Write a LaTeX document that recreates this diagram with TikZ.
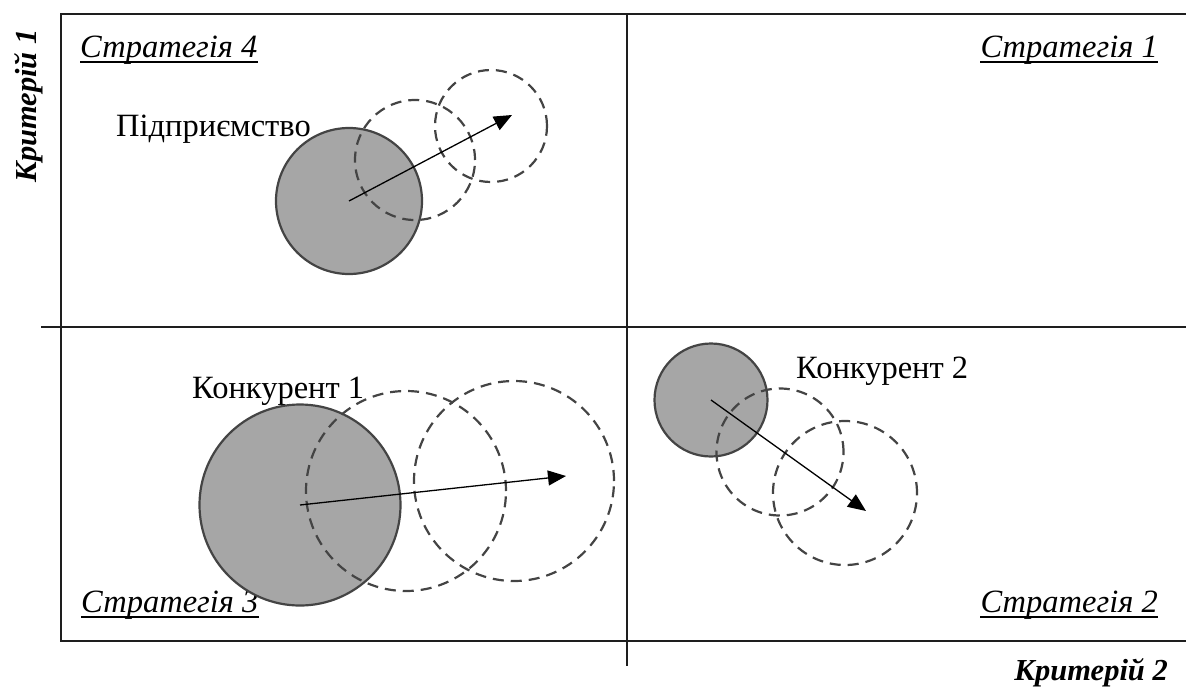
\documentclass[tikz,border=0pt]{standalone}
\usepackage{fontspec}
\setmainfont{Liberation Serif}
\usetikzlibrary{arrows.meta}
\definecolor{framecol}{HTML}{1E1E1E}
\definecolor{edgecol}{HTML}{444444}
\definecolor{firmfill}{HTML}{A6A6A6}
\tikzset{
  axisline/.style={line width=2pt, draw=framecol},
  firm/.style={circle, draw=edgecol, fill=firmfill, line width=2.2pt, inner sep=0pt},
  future/.style={circle, draw=edgecol, dash pattern=on 11pt off 7pt, line width=2.2pt, inner sep=0pt},
  move/.style={line width=1.3pt, -{Triangle[length=18pt, width=15pt]}},
  label/.style={inner sep=0pt, font=\fontsize{32.5}{38}\selectfont},
  strat/.style={inner sep=0pt, font=\fontsize{32.5}{38}\selectfont\itshape},
  crit/.style={inner sep=0pt, font=\fontsize{30.5}{36}\selectfont\bfseries\itshape},
  uline/.style={line width=2.4pt, draw=black}
}
\begin{document}
\begin{tikzpicture}[x=1pt, y=-1pt]
\useasboundingbox (0,0) rectangle (1186,689);

% quadrant frame and axes
\coordinate (tl) at (61,14);
\coordinate (tr) at (1186,14);
\coordinate (bl) at (61,641);
\coordinate (br) at (1186,641);
\coordinate (hl) at (41,327);
\coordinate (hr) at (1186,327);
\coordinate (vt) at (627,14);
\coordinate (vb) at (627,666);
\draw[axisline] (tr) -- (tl) -- (bl) -- (br);
\draw[axisline, line width=1.6pt] (hl) -- (hr);
\draw[axisline, line width=1.6pt] (vt) -- (vb);

% axis titles
\node[crit, rotate=90, anchor=base] (k1) at (36,106) {Критерій 1};
\node[crit, anchor=base east] (k2) at (1168,680) {Критерій 2};

% strategy labels, underlined
\node[strat, anchor=base west] (s4) at (80,57) {Стратегія 4};
\node[strat, anchor=base east] (s1) at (1158,57) {Стратегія 1};
\node[strat, anchor=base west] (s3) at (81,612) {Стратегія 3};
\node[strat, anchor=base east] (s2) at (1158,612) {Стратегія 2};
\foreach \s in {s4,s1,s3,s2}
  \draw[uline] ([yshift=-5pt]\s.base west) -- ([yshift=-5pt]\s.base east);

% enterprise
\node[firm, minimum size=146pt] (f0) at (349,201) {};
\node[future, minimum size=120pt] (f0a) at (415,160) {};
\node[future, minimum size=112pt] (f0b) at (491,126) {};
\coordinate (f0t) at (512,115);
\draw[move] (f0.center) -- (f0t);
\node[label, anchor=base west] (n0) at (116,136) {Підприємство};

% competitor 1
\node[firm, minimum size=201pt] (f1) at (300,505) {};
\node[future, minimum size=200pt] (f1a) at (406,491) {};
\node[future, minimum size=200pt] (f1b) at (514,481) {};
\coordinate (f1t) at (566,476);
\draw[move] (f1.center) -- (f1t);
\node[label, anchor=base west] (n1) at (192,398) {Конкурент 1};

% competitor 2
\node[firm, minimum size=113pt] (f2) at (711,400) {};
\node[future, minimum size=127pt] (f2a) at (780,452) {};
\node[future, minimum size=144pt] (f2b) at (845,493) {};
\coordinate (f2t) at (866,511);
\draw[move] (f2.center) -- (f2t);
\node[label, anchor=base west] (n2) at (796,378) {Конкурент 2};
\end{tikzpicture}
\end{document}
